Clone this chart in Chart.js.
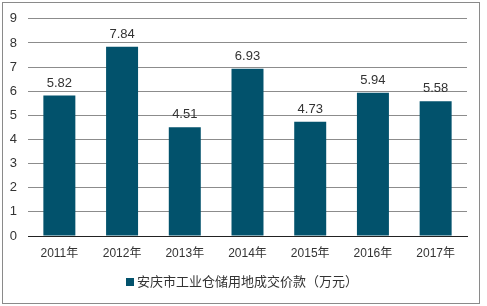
<!DOCTYPE html>
<html>
<head>
<meta charset="utf-8">
<script src="https://cdn.jsdelivr.net/npm/chart.js@4/dist/chart.umd.min.js"></script>
<style>
  html, body { margin: 0; padding: 0; background: #fff; }
  #bingkai { position: absolute; left: 2px; top: 2px; width: 476px; height: 300px; border: 1px solid #8a8a8a; }
  #wadah { position: absolute; left: 0; top: 0; width: 487px; height: 306px; }
</style>
</head>
<body>
<div id="bingkai"></div>
<div id="wadah"><canvas id="grafik"></canvas></div>
<script>
// --- DATA ---
var kategoriTahun = ['2011年', '2012年', '2013年', '2014年', '2015年', '2016年', '2017年'];
var nilaiPrice = [5.82, 7.84, 4.51, 6.93, 4.73, 5.94, 5.58];
var namaSeri = '安庆市工业仓储用地成交价款（万元）';
var tickY = [0, 1, 2, 3, 4, 5, 6, 7, 8, 9];

var hurufDasar = "'Liberation Sans', Arial, 'Noto Sans CJK SC', sans-serif";
var warnaBatang = '#02526c';

// plugin label angka di atas batang
var labelAtas = {
    id: 'labelAtas',
    afterDatasetsDraw: function(chart) {
        var ctx = chart.ctx;
        var meta = chart.getDatasetMeta(0);
        ctx.save();
        ctx.font = '13px ' + hurufDasar;
        ctx.fillStyle = '#333';
        ctx.textAlign = 'center';
        ctx.textBaseline = 'bottom';
        meta.data.forEach(function(bar, i) {
            ctx.fillText(nilaiPrice[i].toFixed(2), bar.x, bar.y - 6);
        });
        ctx.restore();
    }
};

// legenda sendiri, ditengah kanvas (bukan ditengah area grafik)
var legendaBawah = {
    id: 'legendaBawah',
    afterDraw: function(chart) {
        var ctx = chart.ctx;
        ctx.save();
        ctx.font = '13px ' + hurufDasar;
        var lebarTeks = ctx.measureText(namaSeri).width;
        var total = 8 + 3 + lebarTeks;
        var x = Math.round(242 - total / 2);
        var y = 282;
        ctx.fillStyle = warnaBatang;
        ctx.fillRect(x, y - 4, 8, 8);
        ctx.fillStyle = '#333';
        ctx.textBaseline = 'middle';
        ctx.textAlign = 'left';
        ctx.fillText(namaSeri, x + 11, y);
        ctx.restore();
    }
};

new Chart(document.getElementById('grafik'), {
    type: 'bar',
    data: {
        labels: kategoriTahun,
        datasets: [{
            label: namaSeri,
            data: nilaiPrice,
            backgroundColor: warnaBatang,
            categoryPercentage: 0.51,
            barPercentage: 1
        }]
    },
    options: {
        responsive: true,
        maintainAspectRatio: false,
        animation: false,
        layout: { padding: { left: 0, right: 20, top: 17, bottom: 40 } },
        scales: {
            x: {
                grid: { display: false, drawTicks: false },
                border: { color: '#222', width: 1 },
                ticks: { color: '#333', font: { size: 12, family: hurufDasar }, padding: 10 },
                afterFit: function(s) { s.height = 30; }
            },
            y: {
                min: 0,
                max: 9,
                afterBuildTicks: function(s) { s.ticks = tickY.map(function(v) { return { value: v }; }); },
                grid: { color: '#8c8c8c', drawTicks: false },
                border: { display: false },
                ticks: { color: '#333', font: { size: 13, family: hurufDasar }, padding: 11 },
                afterFit: function(s) { s.width = 28; }
            }
        },
        plugins: {
            legend: { display: false },
            tooltip: { enabled: false }
        }
    },
    plugins: [labelAtas, legendaBawah]
});
</script>
</body>
</html>
